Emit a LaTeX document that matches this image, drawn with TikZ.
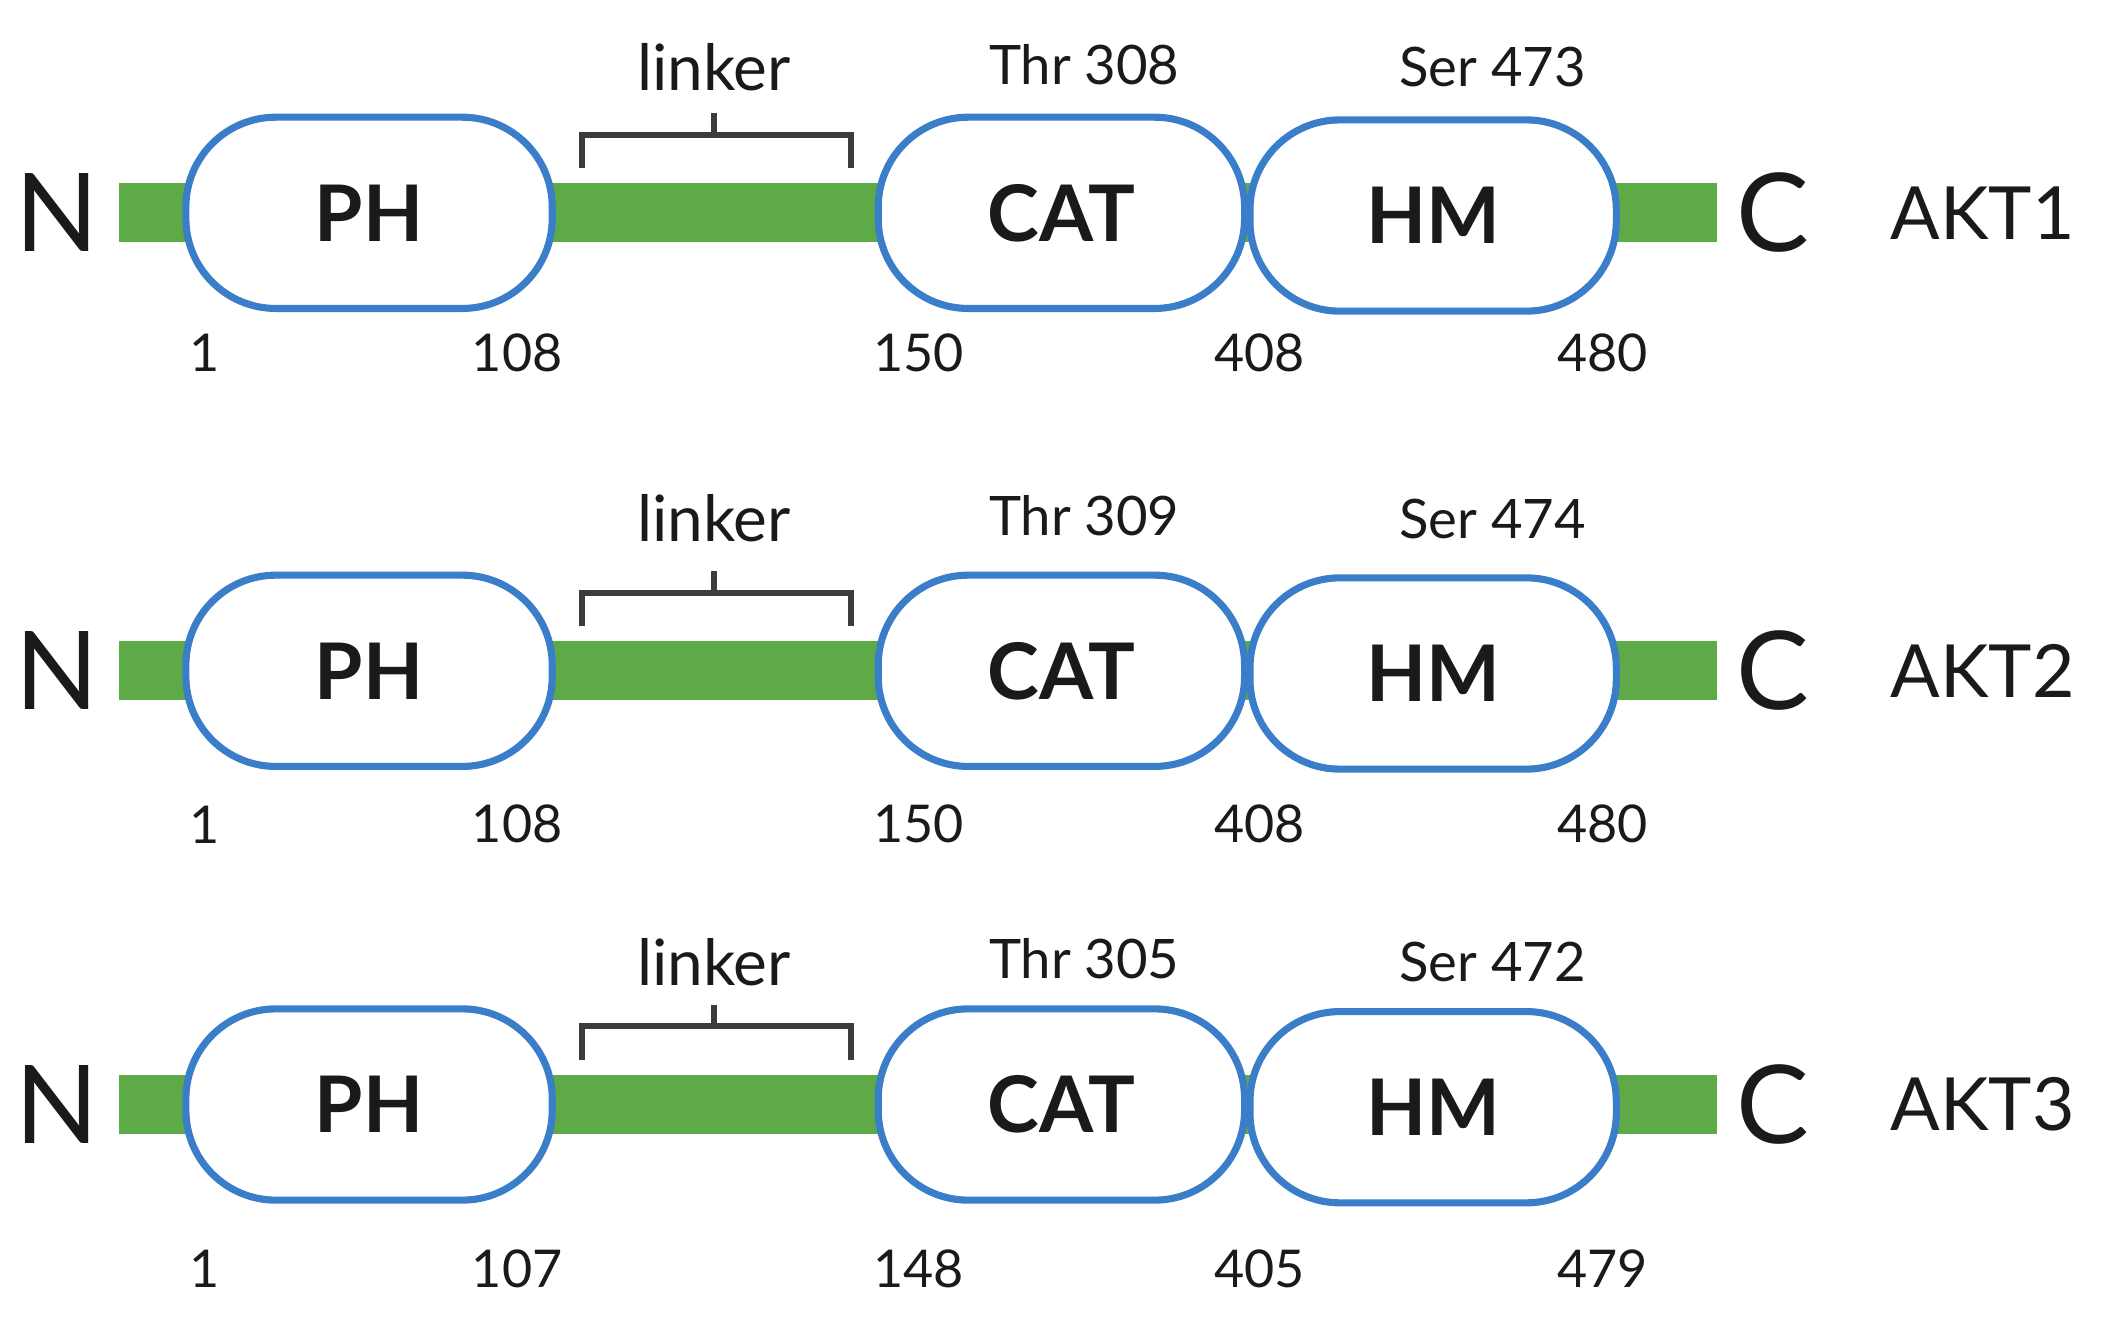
\documentclass[tikz,border=0pt]{standalone}
\usepackage{fontspec}
\setmainfont{Lato}
\definecolor{dom}{HTML}{3A7DC9}
\definecolor{bar}{HTML}{5DAA46}
\definecolor{ink}{HTML}{1A1A1A}
\begin{document}
\begin{tikzpicture}[x=0.02cm,y=-0.02cm,
  dom/.style={draw=dom,line width=3pt,fill=white,rounded corners=38pt,minimum width=272*0.02cm,minimum height=142*0.02cm,inner sep=0pt,font=\fontsize{33}{33}\selectfont\bfseries,text=ink},
  num/.style={font=\fontsize{22}{22}\selectfont,text=ink},
  lab/.style={font=\fontsize{23}{23}\selectfont,text=ink},
  lnk/.style={font=\fontsize{27}{27}\selectfont,text=ink},
  big/.style={font=\fontsize{46}{46}\selectfont,text=ink},
  akt/.style={font=\fontsize{31}{31}\selectfont,text=ink},
  brk/.style={draw=ink!85,line width=2.6pt}]
\useasboundingbox (0,0) rectangle (1568,995);
\foreach \i/\y/\ny/\ly/\a/\b/\c/\d/\e/\t/\s in {
 1/158/262/48/1/108/150/408/480/Thr 308/Ser 473,
 2/498/612/383/1/108/150/408/480/Thr 309/Ser 474,
 3/820/942/712/1/107/148/405/479/Thr 305/Ser 472}{
  \fill[bar] (88,\y-22) rectangle (1275,\y+22);
  \node[dom] (ph\i) at (274,\y) {PH};
  \node[dom] (cat\i) at (788,\y) {CAT};
  \node[dom] (hm\i) at (1064,\y+2) {HM};
  \node[big] (n\i) at (42,\y) {N};
  \node[big] (c\i) at (1316,\y) {C};
  \node[akt] (akt\i) at (1472,\y) {AKT\i};
  \node[num] at (152,\ny) {\a};
  \node[num] at (384,\ny) {\b};
  \node[num] at (682,\ny) {\c};
  \node[num] at (935,\ny) {\d};
  \node[num] at (1190,\ny) {\e};
  \node[lnk] (lk\i) at (530,\ly+2) {linker};
  \node[lab] at (805,\ly) {\t};
  \node[lab] at (1108,\ly+2) {\s};
  \draw[brk] (432,\y-33) -- (432,\y-58) -- (632,\y-58) -- (632,\y-33);
  \draw[brk] (530,\y-58) -- (530,\y-74);
}
\end{tikzpicture}
\end{document}
